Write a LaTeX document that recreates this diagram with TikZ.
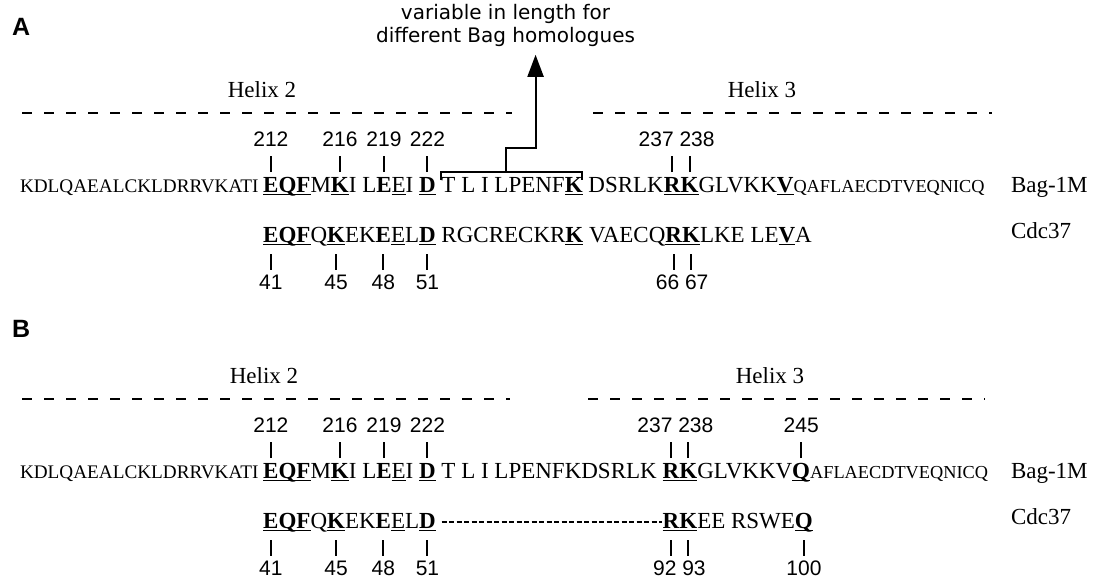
\documentclass[tikz,border=0pt]{standalone}
\usepackage{fontspec}
\setmainfont{Liberation Serif}
\newfontfamily\numfont{Liberation Sans}
\newfontfamily\notefont{DejaVu Sans}
\usetikzlibrary{arrows.meta,positioning,calc}
\newcommand\bigseq{\fontsize{23}{27}\selectfont}
\newcommand\smallseq{\fontsize{19.2}{22}\selectfont}
\newcommand\tailseq{\fontsize{18.3}{22}\selectfont}
\newcommand\rgap{\kern.25em}
\newcommand\ulres[1]{\setbox0\hbox{#1}\rlap{\rule[-3pt]{\wd0}{1.1pt}}\box0}
\newcommand\hotres[1]{\ulres{\textbf{#1}}}
\newcommand\tickup[1]{\draw[tickmark] ([yshift=20pt]#1.base) -- ([yshift=36pt]#1.base);}
\newcommand\tickdown[1]{\draw[tickmark] ([yshift=-12pt]#1.base) -- ([yshift=-28pt]#1.base);}
\tikzset{
  seq/.style={inner sep=0pt, outer sep=0pt, font=\bigseq},
  seqstart/.style={seq, anchor=base west},
  seqafter/.style={seq, base right=0pt of #1},
  num/.style={inner sep=0pt, anchor=base, font=\numfont\fontsize{21}{24}\selectfont},
  helix/.style={inner sep=0pt, anchor=base, font=\bigseq},
  helixline/.style={line width=2.4pt, dash pattern=on 10pt off 12pt},
  tickmark/.style={line width=2pt},
  panel/.style={inner sep=0pt, anchor=base west, font=\numfont\bfseries\fontsize{25}{28}\selectfont},
  note/.style={inner sep=0pt, anchor=north, align=center, font=\notefont\fontsize{20}{23}\selectfont},
  bracketline/.style={line width=2pt},
  upar/.style={line width=2pt, -{Triangle[length=22pt,width=16pt]}},
  hyph/.style={line width=1.3pt, dash pattern=on 5pt off 2.5pt}
}
\begin{document}
\begin{tikzpicture}[x=1pt,y=-1pt]
\useasboundingbox (0,0) rectangle (1109,581);

\node[panel] (pa) at (12,35) {A};
\node[helix] (h2a) at (262,97) {Helix 2};
\node[helix] (h3a) at (762,97) {Helix 3};
\draw[helixline] (22,113) -- (512,113);
\draw[helixline] (593,113) -- (992,113);

\node[seqstart] (aN) at (20,192) {\smallseq KDLQAEALCKLDRRVKATI\rgap};
\node[seqafter=aN] (aE) {\hotres{E}};
\node[seqafter=aE] (aQF) {\hotres{QF}M};
\node[seqafter=aQF] (aK) {\hotres{K}};
\node[seqafter=aK] (aIL) {I\rgap L};
\node[seqafter=aIL] (aEb) {\textbf{E}};
\node[seqafter=aEb] (aEu) {\ulres{E}I\rgap};
\node[seqafter=aEu] (aD) {\hotres{D}};
\node[seqafter=aD] (aTL) {\rgap T\rgap L\rgap I\rgap LPENF};
\node[seqafter=aTL] (aKx) {\hotres{K}};
\node[seqafter=aKx] (aDS) {\rgap DSRLK};
\node[seqafter=aDS] (aR) {\hotres{R}};
\node[seqafter=aR] (aKr) {\hotres{K}};
\node[seqafter=aKr] (aGL) {GLVKK\hotres{V}\tailseq QAFLAECDTVEQNICQ};
\node[seqstart] (aBag) at (1011,192) {Bag-1M};

\node[seqstart] (cE) at (aE.base west |- 0,242) {\hotres{E}};
\node[seqafter=cE] (cQF) {\hotres{QF}Q};
\node[seqafter=cQF] (cK) {\hotres{K}};
\node[seqafter=cK] (cEK) {EK};
\node[seqafter=cEK] (cEb) {\textbf{E}};
\node[seqafter=cEb] (cEu) {\ulres{E}L};
\node[seqafter=cEu] (cD) {\hotres{D}};
\node[seqafter=cD] (cRG) {\rgap RGCRECKR\hotres{K}\rgap VAECQ};
\node[seqafter=cRG] (cR) {\hotres{R}};
\node[seqafter=cR] (cKr) {\hotres{K}};
\node[seqafter=cKr] (cLK) {LKE\rgap LE\hotres{V}A};
\node[seqstart] (aCdc) at (1011,238) {Cdc37};

\node[num] (n212a) at ([yshift=46pt]aE.base) {212};
\node[num] (n216a) at ([yshift=46pt]aK.base) {216};
\node[num] (n219a) at ([yshift=46pt]aEb.base) {219};
\node[num] (n222a) at ([yshift=46pt]aD.base) {222};
\node[num] (n237a) at ([yshift=46pt,xshift=-4pt]aR.base east) {237 238};
\tickup{aE} \tickup{aK} \tickup{aEb} \tickup{aD} \tickup{aR} \tickup{aKr}

\node[num] (n41a) at ([yshift=-47pt]cE.base) {41};
\node[num] (n45a) at ([yshift=-47pt]cK.base) {45};
\node[num] (n48a) at ([yshift=-47pt]cEb.base) {48};
\node[num] (n51a) at ([yshift=-47pt]cD.base) {51};
\node[num] (n66a) at ([yshift=-47pt]cR.base east) {66 67};
\tickdown{cE} \tickdown{cK} \tickdown{cEb} \tickdown{cD} \tickdown{cR} \tickdown{cKr}

\coordinate (brL) at ([xshift=5pt,yshift=12pt]aTL.base west);
\coordinate (brR) at ([xshift=-1pt,yshift=12pt]aKx.base east);
\draw[bracketline] (brL) -- ([yshift=8pt]brL) -- ([yshift=8pt]brR) -- (brR);
\coordinate (rise) at ($([yshift=8pt]brL)!.46!([yshift=8pt]brR)$);
\node[note] (var) at (rise |- 0,4) {variable in length for\\different Bag homologues};
\coordinate (tip) at ([xshift=30pt,yshift=-8pt]rise |- var.south);
\draw[upar] (rise) -- ++(0,-24) -| (tip);

\node[panel] (pb) at (12,337) {B};
\node[helix] (h2b) at (264,383) {Helix 2};
\node[helix] (h3b) at (770,383) {Helix 3};
\draw[helixline] (22,399) -- (510,399);
\draw[helixline] (588,399) -- (985,399);

\node[seqstart] (bN) at (20,478) {\smallseq KDLQAEALCKLDRRVKATI\rgap};
\node[seqafter=bN] (bE) {\hotres{E}};
\node[seqafter=bE] (bQF) {\hotres{QF}M};
\node[seqafter=bQF] (bK) {\hotres{K}};
\node[seqafter=bK] (bIL) {I\rgap L};
\node[seqafter=bIL] (bEb) {\textbf{E}};
\node[seqafter=bEb] (bEu) {\ulres{E}I\rgap};
\node[seqafter=bEu] (bD) {\hotres{D}};
\node[seqafter=bD] (bTL) {\rgap T\rgap L\rgap I\rgap LPENFKDSRLK\rgap};
\node[seqafter=bTL] (bR) {\hotres{R}};
\node[seqafter=bR] (bKr) {\hotres{K}};
\node[seqafter=bKr] (bGL) {GLVKKV};
\node[seqafter=bGL] (bQ) {\hotres{Q}};
\node[seqafter=bQ] (bAF) {\tailseq AFLAECDTVEQNICQ};
\node[seqstart] (bBag) at (1011,478) {Bag-1M};

\node[seqstart] (dE) at (bE.base west |- 0,528) {\hotres{E}};
\node[seqafter=dE] (dQF) {\hotres{QF}Q};
\node[seqafter=dQF] (dK) {\hotres{K}};
\node[seqafter=dK] (dEK) {EK};
\node[seqafter=dEK] (dEb) {\textbf{E}};
\node[seqafter=dEb] (dEu) {\ulres{E}L};
\node[seqafter=dEu] (dD) {\hotres{D}};
\node[seqstart] (dR) at (bR.base west |- 0,528) {\hotres{R}};
\node[seqafter=dR] (dKr) {\hotres{K}};
\node[seqafter=dKr] (dEE) {EE\rgap RSWE};
\node[seqafter=dEE] (dQ) {\hotres{Q}};
\node[seqstart] (bCdc) at (1011,524) {Cdc37};
\draw[hyph] ([xshift=6pt,yshift=6pt]dD.base east) -- ([xshift=-1pt,yshift=6pt]dR.base west);

\node[num] (n212b) at ([yshift=46pt]bE.base) {212};
\node[num] (n216b) at ([yshift=46pt]bK.base) {216};
\node[num] (n219b) at ([yshift=46pt]bEb.base) {219};
\node[num] (n222b) at ([yshift=46pt]bD.base) {222};
\node[num] (n237b) at ([yshift=46pt,xshift=-4pt]bR.base east) {237 238};
\node[num] (n245b) at ([yshift=46pt]bQ.base) {245};
\tickup{bE} \tickup{bK} \tickup{bEb} \tickup{bD} \tickup{bR} \tickup{bKr} \tickup{bQ}

\node[num] (n41b) at ([yshift=-47pt]dE.base) {41};
\node[num] (n45b) at ([yshift=-47pt]dK.base) {45};
\node[num] (n48b) at ([yshift=-47pt]dEb.base) {48};
\node[num] (n51b) at ([yshift=-47pt]dD.base) {51};
\node[num] (n92b) at ([yshift=-47pt]dR.base east) {92 93};
\node[num] (n100b) at ([yshift=-47pt]dQ.base) {100};
\tickdown{dE} \tickdown{dK} \tickdown{dEb} \tickdown{dD} \tickdown{dR} \tickdown{dKr} \tickdown{dQ}

\end{tikzpicture}
\end{document}
